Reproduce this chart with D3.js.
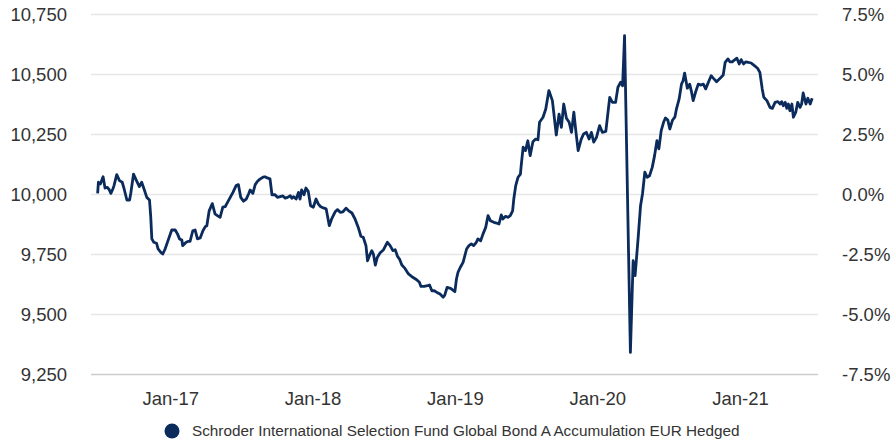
<!DOCTYPE html>
<html>
<head>
<meta charset="utf-8">
<script src="https://cdn.jsdelivr.net/npm/d3@7"></script>
<style>
  html, body { margin: 0; padding: 0; background: #fff; }
  svg { display: block; font-family: "Liberation Sans", Arial, sans-serif; }
</style>
</head>
<body>
<div id="chart"></div>
<script>
const seriesName = 'Schroder International Selection Fund Global Bond A Accumulation EUR Hedged'

// weekly-ish NAV of 10,000 invested
const navDates = [
  '2016-06-29','2016-07-01','2016-07-06','2016-07-13','2016-07-18','2016-07-24','2016-07-29','2016-08-02',
  '2016-08-07','2016-08-10','2016-08-17','2016-08-24','2016-08-31','2016-09-05','2016-09-12','2016-09-19',
  '2016-09-22','2016-09-29','2016-10-06','2016-10-14','2016-10-20','2016-10-26','2016-11-02','2016-11-09',
  '2016-11-12','2016-11-15','2016-11-20','2016-11-27','2016-12-01','2016-12-08','2016-12-13','2016-12-19',
  '2016-12-28','2017-01-05','2017-01-14','2017-01-20','2017-01-25','2017-01-31','2017-02-02','2017-02-11',
  '2017-02-17','2017-02-21','2017-02-28','2017-03-06','2017-03-12','2017-03-19','2017-03-26','2017-04-01',
  '2017-04-05','2017-04-11','2017-04-19','2017-04-26','2017-05-02','2017-05-09','2017-05-16','2017-05-22',
  '2017-05-28','2017-06-04','2017-06-11','2017-06-19','2017-06-25','2017-07-01','2017-07-08','2017-07-15',
  '2017-07-21','2017-07-25','2017-08-01','2017-08-07','2017-08-13','2017-08-20','2017-08-27','2017-09-01',
  '2017-09-07','2017-09-14','2017-09-19','2017-09-27','2017-10-03','2017-10-10','2017-10-17','2017-10-23',
  '2017-10-29','2017-11-05','2017-11-09','2017-11-13','2017-11-20','2017-11-26','2017-11-30','2017-12-04',
  '2017-12-10','2017-12-15','2017-12-21','2017-12-27','2018-01-03','2018-01-10','2018-01-16','2018-01-22',
  '2018-01-29','2018-02-05','2018-02-13','2018-02-19','2018-02-28','2018-03-06','2018-03-13','2018-03-20',
  '2018-03-28','2018-04-03','2018-04-12','2018-04-20','2018-04-29','2018-05-05','2018-05-11','2018-05-18',
  '2018-05-22','2018-05-27','2018-06-02','2018-06-06','2018-06-11','2018-06-16','2018-06-23','2018-07-02',
  '2018-07-12','2018-07-19','2018-07-26','2018-08-01','2018-08-07','2018-08-12','2018-08-18','2018-08-26',
  '2018-09-04','2018-09-15','2018-09-25','2018-10-02','2018-10-06','2018-10-14','2018-10-23','2018-10-28',
  '2018-11-03','2018-11-09','2018-11-16','2018-11-24','2018-12-02','2018-12-06','2018-12-12','2018-12-21',
  '2019-01-01','2019-01-05','2019-01-09','2019-01-15','2019-01-22','2019-01-31','2019-02-06','2019-02-12',
  '2019-02-18','2019-02-25','2019-03-01','2019-03-08','2019-03-14','2019-03-21','2019-03-27','2019-04-02',
  '2019-04-11','2019-04-18','2019-04-24','2019-04-30','2019-05-04','2019-05-11','2019-05-17','2019-05-23',
  '2019-05-29','2019-06-01','2019-06-06','2019-06-12','2019-06-18','2019-06-20','2019-06-25','2019-07-01',
  '2019-07-07','2019-07-13','2019-07-20','2019-07-27','2019-08-02','2019-08-06','2019-08-15','2019-08-22',
  '2019-08-30','2019-09-08','2019-09-18','2019-09-25','2019-10-01','2019-10-07','2019-10-14','2019-10-21',
  '2019-10-27','2019-11-02','2019-11-07','2019-11-13','2019-11-21','2019-11-27','2019-12-04','2019-12-11',
  '2019-12-17','2019-12-23','2019-12-30','2020-01-07','2020-01-14','2020-01-23','2020-01-29','2020-02-02',
  '2020-02-09','2020-02-17','2020-02-23','2020-03-01','2020-03-06','2020-03-11','2020-03-26','2020-04-02',
  '2020-04-07','2020-04-15','2020-04-21','2020-04-26','2020-05-02','2020-05-08','2020-05-14','2020-05-21',
  '2020-05-27','2020-06-02','2020-06-07','2020-06-13','2020-06-19','2020-06-24','2020-06-30','2020-07-05',
  '2020-07-12','2020-07-18','2020-07-22','2020-07-29','2020-08-04','2020-08-08','2020-08-12','2020-08-19',
  '2020-08-25','2020-08-29','2020-09-03','2020-09-09','2020-09-16','2020-09-23','2020-09-29','2020-10-05',
  '2020-10-12','2020-10-19','2020-10-25','2020-11-02','2020-11-11','2020-11-19','2020-11-24','2020-12-01',
  '2020-12-06','2020-12-12','2020-12-19','2020-12-24','2020-12-30','2021-01-04','2021-01-10','2021-01-16',
  '2021-01-22','2021-01-29','2021-02-07','2021-02-15','2021-02-21','2021-02-27','2021-03-03','2021-03-11',
  '2021-03-19','2021-03-25','2021-04-01','2021-04-08','2021-04-14','2021-04-18','2021-04-22','2021-04-27',
  '2021-05-01','2021-05-05','2021-05-09','2021-05-14','2021-05-18','2021-05-24','2021-05-29','2021-06-04',
  '2021-06-08','2021-06-12','2021-06-19','2021-06-24','2021-06-30','2021-07-05'
]

const navValues = [
  10005,10051,10044,10074,10027,10030,10019,10005,
  10023,10037,10083,10058,10051,10023,9977,9977,
  10005,10085,10060,10033,10051,10023,9988,9977,
  9912,9815,9801,9797,9773,9759,9752,9773,
  9815,9852,9852,9835,9815,9810,9787,9801,
  9805,9805,9849,9852,9815,9819,9849,9866,
  9870,9932,9962,9919,9912,9905,9947,9949,
  9967,9988,10009,10037,10041,9988,9972,9981,
  10002,10019,10005,10041,10055,10065,10072,10074,
  10069,10065,9999,9999,9988,9991,9994,9985,
  9988,9995,9984,9991,9981,10009,9981,10019,
  9999,10027,10013,9953,9947,9981,9960,9949,
  9944,9940,9870,9898,9928,9937,9926,9928,
  9943,9933,9923,9898,9859,9826,9822,9787,
  9724,9745,9766,9752,9706,9738,9756,9770,
  9801,9787,9766,9770,9742,9731,9706,9692,
  9669,9655,9645,9634,9617,9617,9620,9623,
  9599,9599,9592,9585,9572,9581,9613,9609,
  9595,9648,9676,9697,9717,9773,9787,9794,
  9787,9801,9815,9807,9835,9863,9912,9891,
  9884,9881,9877,9915,9898,9909,9905,9912,
  9932,9981,10037,10072,10085,10120,10197,10183,
  10224,10162,10220,10231,10228,10301,10322,10356,
  10433,10391,10248,10335,10280,10377,10318,10301,
  10259,10343,10266,10183,10231,10252,10259,10231,
  10259,10218,10238,10287,10259,10263,10349,10405,
  10384,10384,10447,10468,10453,10662,9342,9724,
  9662,9822,9953,10002,10093,10072,10078,10113,
  10162,10224,10190,10266,10301,10319,10310,10273,
  10310,10322,10356,10398,10460,10474,10506,10443,
  10460,10433,10391,10426,10460,10456,10460,10440,
  10468,10495,10484,10470,10484,10498,10551,10565,
  10553,10553,10562,10568,10544,10562,10544,10553,
  10551,10548,10537,10526,10509,10440,10405,10391,
  10363,10359,10384,10387,10377,10387,10370,10384,
  10359,10377,10349,10377,10322,10343,10384,10363,
  10377,10423,10377,10401,10377,10401
]

const leftTicks = [9250, 9500, 9750, 10000, 10250, 10500, 10750]
const rightTicks = [-0.075, -0.05, -0.025, 0, 0.025, 0.05, 0.075]
const xTicks = ['2017-01-01', '2018-01-01', '2019-01-01', '2020-01-01', '2021-01-01']
const xDomain = ['2016-06-12', '2021-07-20']
const baseValue = 10000

const W = 893, H = 445
const margin = { top: 14.5, right: 75, bottom: 70.5, left: 91 }
const innerW = W - margin.left - margin.right
const innerH = H - margin.top - margin.bottom

const parse = d3.timeParse('%Y-%m-%d')
const data = navDates.map((d, i) => ({ date: parse(d), value: navValues[i] }))

const x = d3.scaleTime()
  .domain(xDomain.map(parse))
  .range([0, innerW])

const y = d3.scaleLinear()
  .domain([leftTicks[0], leftTicks[leftTicks.length - 1]])
  .range([innerH, 0])

const yPct = d3.scaleLinear()
  .domain([leftTicks[0] / baseValue - 1, leftTicks[leftTicks.length - 1] / baseValue - 1])
  .range([innerH, 0])

const svg = d3.select('#chart')
  .append('svg')
  .attr('width', W)
  .attr('height', H)

const g = svg.append('g')
  .attr('transform', `translate(${margin.left},${margin.top})`)

// Gridlines
g.append('g')
  .selectAll('line')
  .data(leftTicks)
  .join('line')
  .attr('x1', 0)
  .attr('x2', innerW)
  .attr('y1', d => y(d))
  .attr('y2', d => y(d))
  .attr('stroke', (d, i) => i === 0 ? '#cccccc' : '#e6e6e6')
  .attr('stroke-width', 1.4)

// Left axis
const leftAxis = g.append('g')
  .call(d3.axisLeft(y).tickValues(leftTicks).tickFormat(d3.format(',')).tickSize(0).tickPadding(24))
leftAxis.select('.domain').remove()

// Right axis
const rightAxis = g.append('g')
  .attr('transform', `translate(${innerW},0)`)
  .call(d3.axisRight(yPct).tickValues(rightTicks).tickFormat(d3.format('.1%')).tickSize(0).tickPadding(24))
rightAxis.select('.domain').remove()

// Bottom axis
const bottomAxis = g.append('g')
  .attr('transform', `translate(0,${innerH})`)
  .call(d3.axisBottom(x).tickValues(xTicks.map(parse)).tickFormat(d3.timeFormat('%b-%y')).tickSize(0).tickPadding(17))
bottomAxis.select('.domain').remove()

svg.selectAll('.tick text')
  .attr('fill', '#333333')
  .attr('font-size', '18.5px')
  .attr('font-family', '"Liberation Sans", Arial, sans-serif')
rightAxis.selectAll('.tick text').text(d => d3.format('.1%')(d).replace('−', '-'))

// Line
g.append('path')
  .datum(data)
  .attr('fill', 'none')
  .attr('stroke', '#0a2b5c')
  .attr('stroke-width', 2.8)
  .attr('stroke-linejoin', 'round')
  .attr('d', d3.line().x(d => x(d.date)).y(d => y(d.value)))

// Legend
const legend = svg.append('g')
  .attr('transform', 'translate(172,431)')
legend.append('circle')
  .attr('r', 7.5)
  .attr('fill', '#0a2b5c')
legend.append('text')
  .attr('x', 20)
  .attr('dy', '0.35em')
  .attr('fill', '#333333')
  .attr('font-size', '15.3px')
  .text(seriesName)
</script>
</body>
</html>
